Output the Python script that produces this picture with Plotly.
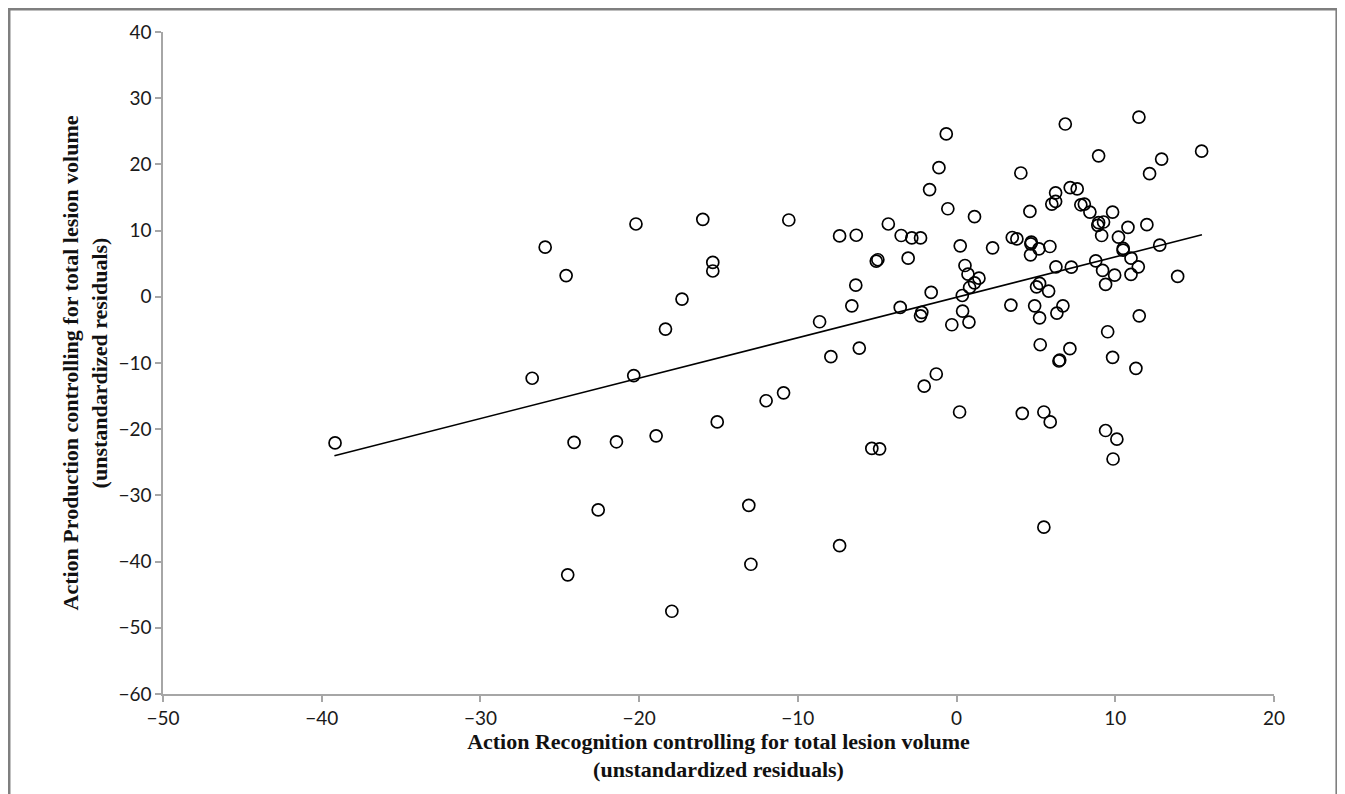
import plotly.graph_objects as go

# Action Recognition residuals (x) and Action Production residuals (y)
recognition = [
    -39.16, -25.92, -24.6, -20.2, -15.99, -10.57, -7.37, -6.32, -4.3, -15.36,
    -15.36, -17.3, -18.34, -8.63, -6.6, -6.35, -4.96, -5.06, -7.92, -6.13,
    -26.74, -20.34, -12.0, -10.9, -24.1, -21.43, -18.93, -15.08, -5.34, -4.85,
    -22.58, -13.09, -7.37, -24.5, -12.96, -17.94, -2.04, 0.19, 4.14, 5.5,
    5.9, 9.39, 10.1, 9.86, 5.5, 11.49, 6.85, 15.44, -0.65, 8.95,
    12.92, -1.11, 12.16, 4.05, -1.70, 7.16, 7.6, 6.24, 6.24, 6.0,
    7.83, 8.05, 8.4, 9.83, 4.62, -0.55, 1.13, 8.95, 9.26, 8.9,
    11.99, 10.8, 9.14, 10.2, -3.49, -2.82, -2.27, 0.23, 2.27, 3.51,
    3.8, 4.71, 4.68, 5.19, 5.88, 4.66, 10.5, 10.49, 12.8, 10.99,
    -3.05, 0.53, 0.72, 1.41, 1.13, 0.82, 0.36, -1.6, 6.26, 7.23,
    8.77, 9.2, 9.96, 9.39, 10.99, 11.45, 13.93, 5.23, 5.04, 5.8,
    -3.55, -2.19, -2.27, 0.38, -0.3, 0.78, 3.42, 4.92, 5.23, 6.32,
    6.7, 11.51, 5.27, 7.14, 6.45, 6.5, 9.52, 9.83, 11.3, -1.28,
]
production = [
    -22.07, 7.5, 3.2, 11.0, 11.7, 11.6, 9.2, 9.3, 11.0, 5.2,
    3.9, -0.35, -4.87, -3.77, -1.36, 1.76, 5.6, 5.4, -9.05, -7.74,
    -12.3, -11.9, -15.7, -14.5, -22.0, -21.9, -21.0, -18.9, -22.9, -22.97,
    -32.2, -31.5, -37.6, -42.0, -40.4, -47.5, -13.5, -17.4, -17.6, -17.4,
    -18.9, -20.2, -21.5, -24.5, -34.8, 27.15, 26.1, 22.0, 24.6, 21.3,
    20.8, 19.5, 18.6, 18.7, 16.2, 16.5, 16.3, 15.7, 14.4, 14.0,
    13.9, 14.0, 12.8, 12.8, 12.9, 13.3, 12.1, 11.2, 11.3, 10.8,
    10.9, 10.5, 9.26, 9.0, 9.26, 8.9, 8.9, 7.7, 7.4, 8.96,
    8.75, 8.25, 8.0, 7.25, 7.6, 6.34, 7.3, 7.04, 7.8, 5.84,
    5.84, 4.73, 3.42, 2.82, 2.11, 1.41, 0.2, 0.66, 4.53, 4.48,
    5.43, 3.98, 3.27, 1.87, 3.38, 4.53, 3.08, 2.02, 1.51, 0.86,
    -1.6, -2.35, -2.87, -2.16, -4.22, -3.82, -1.25, -1.36, -3.17, -2.46,
    -1.36, -2.87, -7.24, -7.84, -9.7, -9.55, -5.28, -9.14, -10.8, -11.66,
]

# Linear fit line endpoints
trend_x = [-39.2, 15.46]
trend_y = [-24.0, 9.36]

x_ticks = [-50, -40, -30, -20, -10, 0, 10, 20]
y_ticks = [-60, -50, -40, -30, -20, -10, 0, 10, 20, 30, 40]

x_title = "<b>Action Recognition controlling for total lesion volume</b><br><b>(unstandardized residuals)</b>"
y_title = "<b>Action Production controlling for total lesion volume</b><br><b>(unstandardized residuals)</b>"

fig = go.Figure()
fig.add_trace(go.Scatter(
    x=trend_x, y=trend_y, mode="lines",
    line=dict(color="black", width=1.6),
    showlegend=False, hoverinfo="skip",
))
fig.add_trace(go.Scatter(
    x=recognition, y=production, mode="markers",
    marker=dict(symbol="circle-open", size=12, color="black",
                line=dict(color="black", width=1.7)),
    showlegend=False,
))

axis_common = dict(
    showgrid=False, zeroline=False, showline=True,
    linecolor="#a6a6a6", linewidth=1.5,
    ticks="outside", ticklen=6, tickcolor="#a6a6a6", tickwidth=1.5,
    tickfont=dict(family="Lato, Liberation Sans, sans-serif", size=19, color="#1a1a1a"),
)

title_font = dict(family="Liberation Serif, Times New Roman, serif", size=22, color="#111111")

fig.update_xaxes(
    range=[-50, 20], tickvals=x_ticks, **axis_common,
    title=dict(text=x_title, standoff=4, font=title_font),
)
fig.update_yaxes(
    range=[-60, 40], tickvals=y_ticks, **axis_common,
    title=dict(text=y_title, standoff=5, font=title_font),
)

# outer frame of the figure
fig.add_shape(type="rect", xref="paper", yref="paper",
              x0=-0.1384, x1=1.0564, y0=-0.2, y1=1.0344,
              line=dict(color="#7f7f7f", width=2.5), fillcolor="rgba(0,0,0,0)", layer="below")

fig.update_layout(
    width=1337, height=786,
    margin=dict(l=155, r=71, t=24, b=100),
    plot_bgcolor="white", paper_bgcolor="white",
)

fig.write_html("out.html")
